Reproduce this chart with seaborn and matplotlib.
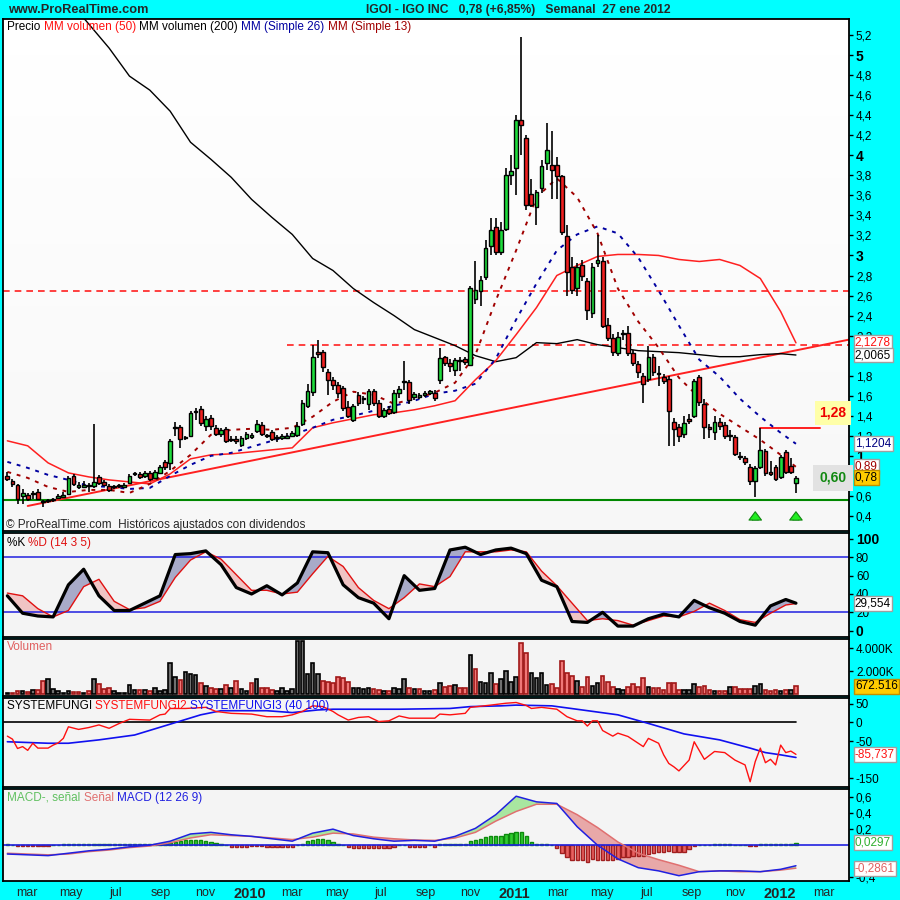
import numpy as np
import pandas as pd
import matplotlib
matplotlib.use("Agg")
import matplotlib.pyplot as plt
import matplotlib.dates as mdates
import matplotlib.transforms as mtransforms
import seaborn as sns

sns.set_style("white")
plt.rcParams["font.family"] = ["Liberation Sans", "DejaVu Sans"]

# ---------------- data (weekly candles, monday dates) ----------------
first_week = "2009-02-02"

opens = [0.80, 0.75, 0.71, 0.60, 0.61, 0.62, 0.64, 0.54, 0.55, 0.56, 0.58, 0.59, 0.62, 0.80, 0.69, 0.69,
         0.70, 0.70, 0.79, 0.74, 0.70, 0.69, 0.70, 0.69, 0.73, 0.82, 0.82, 0.80, 0.83, 0.78, 0.83, 0.94,
         0.93, 1.28, 1.29, 1.18, 1.20, 1.44, 1.47, 1.30, 1.38, 1.28, 1.22, 1.27, 1.16, 1.17, 1.11, 1.18,
         1.19, 1.25, 1.31, 1.20, 1.24, 1.18, 1.18, 1.18, 1.20, 1.21, 1.32, 1.50, 1.64, 2.04, 2.04, 1.84,
         1.76, 1.71, 1.68, 1.49, 1.36, 1.61, 1.57, 1.52, 1.65, 1.53, 1.40, 1.47, 1.44, 1.63, 1.74, 1.74,
         1.59, 1.59, 1.61, 1.63, 1.63, 1.76, 1.99, 1.93, 1.86, 1.95, 1.97, 1.91, 2.57, 2.65, 2.79, 3.09,
         3.28, 3.03, 3.26, 3.80, 3.87, 4.35, 4.17, 3.61, 3.48, 3.67, 3.92, 3.90, 3.90, 3.79, 3.19, 2.88,
         2.68, 2.90, 2.75, 2.43, 2.92, 2.94, 2.31, 2.18, 2.03, 2.22, 2.23, 2.03, 1.92, 1.80, 1.77, 1.99,
         1.82, 1.79, 1.77, 1.34, 1.29, 1.22, 1.37, 1.40, 1.79, 1.52, 1.29, 1.24, 1.34, 1.31, 1.20, 1.19,
         0.99, 0.98, 0.89, 0.75, 0.89, 1.05, 0.84, 0.89, 0.79, 1.04, 0.90, 0.73]
highs = [0.84, 0.77, 0.72, 0.67, 0.63, 0.65, 0.67, 0.56, 0.57, 0.58, 0.62, 0.64, 0.80, 0.82, 0.74, 0.75,
         0.73, 1.32, 0.81, 0.76, 0.72, 0.71, 0.72, 0.73, 0.82, 0.84, 0.84, 0.85, 0.85, 0.86, 0.91, 0.96,
         1.17, 1.34, 1.31, 1.20, 1.45, 1.48, 1.50, 1.40, 1.41, 1.31, 1.28, 1.29, 1.20, 1.20, 1.20, 1.24,
         1.23, 1.36, 1.34, 1.22, 1.26, 1.21, 1.22, 1.23, 1.25, 1.34, 1.56, 1.72, 2.11, 2.16, 2.06, 1.87,
         1.79, 1.74, 1.70, 1.55, 1.52, 1.64, 1.60, 1.67, 1.67, 1.56, 1.48, 1.50, 1.66, 1.70, 1.95, 1.76,
         1.64, 1.63, 1.65, 1.66, 1.66, 2.08, 2.00, 1.97, 1.98, 1.99, 1.99, 2.70, 2.94, 2.80, 3.15, 3.37,
         3.37, 3.33, 3.87, 4.00, 4.40, 5.18, 4.20, 3.76, 3.65, 3.95, 4.32, 4.24, 3.98, 3.80, 3.30, 2.98,
         2.92, 2.95, 2.78, 2.92, 3.20, 2.98, 2.38, 2.22, 2.24, 2.26, 2.30, 2.06, 1.95, 1.83, 2.10, 2.02,
         1.90, 1.82, 1.80, 1.38, 1.32, 1.40, 1.42, 1.77, 1.81, 1.57, 1.32, 1.40, 1.38, 1.34, 1.26, 1.21,
         1.04, 1.00, 0.92, 0.90, 1.28, 1.07, 0.95, 0.91, 1.01, 1.06, 0.98, 0.80]
lows = [0.75, 0.69, 0.52, 0.52, 0.55, 0.57, 0.56, 0.49, 0.53, 0.54, 0.57, 0.58, 0.61, 0.70, 0.67, 0.68,
        0.64, 0.68, 0.71, 0.70, 0.64, 0.67, 0.68, 0.68, 0.72, 0.80, 0.77, 0.78, 0.75, 0.77, 0.82, 0.86,
        0.86, 1.20, 1.08, 1.16, 1.20, 1.36, 1.30, 1.25, 1.26, 1.20, 1.19, 1.13, 1.14, 1.12, 1.09, 1.16,
        1.17, 1.23, 1.20, 1.18, 1.15, 1.14, 1.16, 1.17, 1.19, 1.19, 1.30, 1.48, 1.60, 1.98, 1.84, 1.61,
        1.66, 1.58, 1.45, 1.38, 1.34, 1.50, 1.52, 1.46, 1.50, 1.38, 1.38, 1.41, 1.42, 1.58, 1.66, 1.52,
        1.56, 1.57, 1.59, 1.61, 1.55, 1.72, 1.90, 1.84, 1.80, 1.85, 1.91, 1.90, 2.52, 2.50, 2.76, 3.00,
        3.00, 3.00, 3.24, 3.70, 3.60, 4.00, 3.45, 3.48, 3.30, 3.62, 3.85, 3.56, 3.56, 3.20, 2.60, 2.62,
        2.60, 2.75, 2.36, 2.38, 2.88, 2.28, 2.15, 2.00, 2.00, 2.16, 2.00, 1.90, 1.78, 1.53, 1.74, 1.80,
        1.70, 1.72, 1.10, 1.10, 1.14, 1.18, 1.32, 1.38, 1.50, 1.17, 1.18, 1.16, 1.26, 1.17, 1.15, 1.00,
        0.96, 0.91, 0.71, 0.59, 0.87, 0.80, 0.80, 0.75, 0.77, 0.82, 0.82, 0.63]
closes = [0.77, 0.72, 0.57, 0.63, 0.57, 0.63, 0.57, 0.54, 0.55, 0.56, 0.60, 0.61, 0.78, 0.72, 0.71, 0.71,
          0.70, 0.74, 0.73, 0.71, 0.66, 0.69, 0.70, 0.71, 0.80, 0.82, 0.79, 0.83, 0.77, 0.84, 0.89, 0.89,
          1.15, 1.29, 1.17, 1.18, 1.43, 1.44, 1.33, 1.37, 1.30, 1.22, 1.26, 1.15, 1.16, 1.15, 1.18, 1.22,
          1.21, 1.32, 1.22, 1.20, 1.17, 1.18, 1.20, 1.20, 1.23, 1.30, 1.53, 1.65, 1.99, 2.02, 1.89, 1.76,
          1.71, 1.63, 1.48, 1.40, 1.50, 1.53, 1.57, 1.65, 1.53, 1.40, 1.46, 1.43, 1.63, 1.67, 1.74, 1.56,
          1.62, 1.61, 1.63, 1.65, 1.58, 1.98, 1.93, 1.90, 1.96, 1.95, 1.94, 2.68, 2.66, 2.76, 3.07, 3.25,
          3.03, 3.25, 3.80, 3.84, 4.35, 4.30, 3.50, 3.50, 3.63, 3.89, 4.05, 3.85, 3.79, 3.23, 2.83, 2.66,
          2.88, 2.80, 2.46, 2.88, 2.95, 2.30, 2.18, 2.04, 2.19, 2.22, 2.03, 1.93, 1.84, 1.72, 1.99, 1.84,
          1.82, 1.75, 1.45, 1.27, 1.20, 1.33, 1.35, 1.75, 1.54, 1.29, 1.27, 1.34, 1.30, 1.20, 1.20, 1.02,
          0.99, 0.94, 0.75, 0.88, 1.06, 0.83, 0.82, 0.77, 0.99, 0.84, 0.84, 0.78]

# volume in thousands of shares
volume_k = [116, 116, 232, 232, 174, 348, 348, 1100, 1275, 406, 232, 116, 232, 174, 174, 116,
            232, 1333, 840, 406, 550, 232, 116, 116, 754, 348, 348, 348, 232, 550, 290, 348,
            2725, 1507, 1189, 1942, 1768, 1681, 986, 696, 493, 406, 406, 812, 493, 1100, 406, 290,
            928, 1275, 493, 493, 348, 232, 493, 232, 406, 4580, 4580, 1768, 2667, 1710, 1130, 1044,
            928, 1450, 1391, 1044, 493, 493, 406, 493, 406, 348, 232, 290, 493, 406, 1275, 550,
            406, 406, 290, 232, 348, 986, 580, 696, 783, 493, 493, 3392, 2145, 1073, 928, 1797,
            870, 1276, 2029, 1015, 1450, 4406, 3537, 1855, 1363, 1855, 783, 841, 551, 2899, 1855, 1565,
            1160, 638, 1450, 696, 986, 1565, 1073, 638, 406, 348, 638, 841, 580, 1363, 580, 493,
            493, 348, 986, 928, 348, 348, 348, 841, 638, 696, 348, 290, 232, 232, 638, 638,
            406, 406, 406, 696, 841, 348, 290, 348, 232, 348, 348, 673]

# moving averages, sampled every 4 weeks
ma_weeks = list(range(0, 153, 4)) + [155]
mm50 = [1.15, 1.10, 0.93, 0.83, 0.79, 0.76, 0.74, 0.72, 0.82, 0.97, 1.01, 1.02, 1.04, 1.06, 1.08, 1.28,
        1.33, 1.37, 1.41, 1.43, 1.46, 1.50, 1.55, 1.76, 1.95, 2.21, 2.48, 2.80, 2.90, 2.99, 3.01, 3.01,
        3.00, 2.96, 2.94, 2.96, 2.90, 2.77, 2.44, 2.1278]
mm26 = [0.94, 0.88, 0.81, 0.76, 0.70, 0.69, 0.67, 0.68, 0.80, 0.91, 1.00, 1.03, 1.09, 1.15, 1.21, 1.28,
        1.36, 1.40, 1.45, 1.50, 1.55, 1.62, 1.65, 1.72, 1.97, 2.36, 2.72, 3.05, 3.21, 3.29, 3.22, 2.98,
        2.65, 2.30, 1.96, 1.79, 1.57, 1.39, 1.23, 1.1204]
mm13 = [0.84, 0.78, 0.69, 0.64, 0.66, 0.66, 0.63, 0.72, 0.85, 1.01, 1.21, 1.26, 1.27, 1.26, 1.28, 1.39,
        1.54, 1.64, 1.61, 1.52, 1.57, 1.63, 1.73, 2.01, 2.55, 3.05, 3.58, 3.77, 3.58, 3.22, 2.67, 2.34,
        2.08, 1.78, 1.58, 1.42, 1.29, 1.16, 1.01, 0.89]
mm200_weeks = [15, 20] + list(range(24, 153, 4)) + [155]
mm200 = [5.37, 5.07, 4.79, 4.65, 4.44, 4.13, 3.96, 3.78, 3.56, 3.38, 3.21, 2.97, 2.85, 2.67, 2.53, 2.40,
         2.26, 2.18, 2.10, 2.00, 1.94, 1.98, 2.13, 2.12, 2.16, 2.11, 2.08, 2.05, 2.04, 2.03, 2.01, 1.99,
         1.99, 2.01, 2.02, 2.0065]

# drawn levels
resist_high = 2.65
resist_mid = 2.11
resist_mid_from = 55
support = 0.56
trend_dates = ["2009-03-02", "2012-04-05"]
trend_prices = [0.50, 2.16]
breakout = 1.28
breakout_from = 148
breakout_to = "2012-02-25"
signal_weeks = [147, 155]

# stochastic %K / %D (14 3 5), every 3 weeks
st_weeks = list(range(0, 154, 3)) + [155]
st_k = [38, 19, 16, 15, 50, 67, 38, 22, 22, 30, 38, 83, 84, 87, 72, 47, 40, 49, 39, 52,
        86, 85, 50, 36, 30, 13, 60, 44, 46, 88, 91, 83, 88, 90, 84, 55, 48, 10, 9, 20,
        5, 5, 13, 18, 15, 33, 25, 19, 10, 6, 27, 34, 30]
st_d = [41, 38, 24, 15, 22, 48, 56, 32, 23, 25, 32, 58, 77, 86, 78, 61, 44, 44, 40, 42,
        62, 81, 70, 47, 33, 24, 36, 51, 48, 59, 86, 86, 86, 88, 86, 65, 49, 30, 11, 13,
        11, 6, 11, 16, 15, 21, 30, 22, 12, 9, 19, 28, 29.554]

# SYSTEMFUNGI2 (red) and SYSTEMFUNGI3 (blue)
sf2_weeks = [0, 1, 2, 3, 4, 5, 6, 7, 8, 9, 10, 11, 12, 14, 16, 18, 20, 22, 24, 28, 30, 31, 32, 35, 39,
             41, 44, 48, 51, 54, 56, 58, 60, 62, 64, 65, 67, 69, 71, 73, 75, 77, 79, 84, 85, 87, 90,
             91, 95, 98, 100, 102, 103, 105, 108, 110, 112, 113, 114, 115, 116, 117, 119, 120, 122,
             125, 126, 128, 129, 130, 131, 132, 134, 135, 137, 139, 141, 143, 145, 146, 147, 148,
             149, 150, 151, 152, 153, 154, 155]
sf2 = [-37, -45, -70, -65, -75, -56, -69, -69, -69, -61, -55, -43, -12, -19, -14, -7, -16, -3, 8, 6,
       20, 22, 37, 37, 40, 29, 24, 22, 15, 15, 20, 29, 44, 42, 29, 20, 6, 13, 15, 2, 4, 17, 11, 11,
       22, 20, 24, 40, 46, 51, 53, 45, 37, 40, 35, 15, 4, 4, -10, 4, 4, -22, -37, -29, -38, -65,
       -43, -56, -87, -110, -119, -130, -101, -52, -99, -78, -81, -101, -114, -159, -105, -69,
       -108, -99, -114, -61, -81, -77, -85.737]
sf3_weeks = [0, 8, 12, 18, 25, 32, 38, 42, 51, 56, 61, 64, 77, 87, 91, 97, 100, 107, 113, 120,
             126, 133, 140, 146, 149, 152, 155]
sf3 = [-52, -56, -56, -47, -34, -5, 20, 31, 31, 26, 33, 35, 35, 37, 42, 44, 46, 44, 33, 20,
       -3, -31, -47, -69, -81, -87, -94]

# MACD (12 26 9), lines every 4 weeks, histogram weekly
macd_line = [-0.11, -0.12, -0.13, -0.10, -0.07, -0.05, -0.02, 0.00, 0.05, 0.14, 0.16, 0.13, 0.11, 0.08,
             0.05, 0.15, 0.20, 0.12, 0.08, 0.05, 0.06, 0.05, 0.11, 0.21, 0.38, 0.61, 0.54, 0.52, 0.23,
             0.00, -0.17, -0.28, -0.32, -0.38, -0.33, -0.32, -0.32, -0.33, -0.30, -0.256]
macd_signal = [-0.10, -0.11, -0.12, -0.11, -0.08, -0.06, -0.03, -0.01, 0.03, 0.09, 0.13, 0.12, 0.11,
               0.09, 0.07, 0.10, 0.15, 0.14, 0.10, 0.08, 0.065, 0.06, 0.09, 0.16, 0.30, 0.42, 0.51,
               0.51, 0.38, 0.22, 0.04, -0.10, -0.18, -0.25, -0.33, -0.32, -0.33, -0.33, -0.31, -0.2861]
macd_hist = [0.02, 0, -0.01, -0.01, -0.01, -0.01, -0.01, -0.01, -0.01, 0, 0, 0.02, 0.02, 0.02, 0.02, 0.02,
             0.02, 0.02, 0.02, 0.02, 0.02, 0.02, 0.01, 0.01, 0.02, 0.02, 0.02, 0.02, 0.02, 0.02, 0.02, 0.02,
             0.03, 0.04, 0.05, 0.06, 0.07, 0.07, 0.06, 0.05, 0.04, 0.03, 0.01, 0, -0.02, -0.02, -0.02, -0.02,
             -0.01, -0.01, -0.01, -0.02, -0.02, -0.02, -0.02, -0.02, -0.02, 0, 0.01, 0.05, 0.07, 0.08,
             0.08, 0.07, 0.04, 0.02, 0, -0.02, -0.03, -0.04, -0.03, -0.03, -0.03, -0.04, -0.03, -0.03,
             -0.02, 0, 0, -0.02, -0.02, -0.02, -0.02, 0, -0.02, 0.02, 0.02, 0.02, 0.02, 0.02, 0.02, 0.05,
             0.07, 0.08, 0.10, 0.12, 0.12, 0.12, 0.14, 0.15, 0.17, 0.17, 0.11, 0.04, 0.02, 0.02, 0.02, 0,
             -0.03, -0.10, -0.15, -0.18, -0.19, -0.19, -0.21, -0.17, -0.19, -0.19, -0.19, -0.19, -0.17,
             -0.15, -0.15, -0.14, -0.14, -0.13, -0.11, -0.10, -0.08, -0.08, -0.07, -0.08, -0.08, -0.08,
             -0.05, -0.01, 0, 0, 0, 0.01, 0.01, 0.01, 0.01, 0, 0, 0, -0.01, -0.01, 0.01, 0.01, 0.01, 0.01,
             0.02, 0.02, 0.02, 0.0297]

months_es = {3: "mar", 5: "may", 7: "jul", 9: "sep", 11: "nov"}

# ---------------- figure ----------------
W = 900
weeks = pd.date_range(first_week, periods=len(closes), freq="7D")
xw = mdates.date2num(weeks)
o, h, l, c = map(np.array, (opens, highs, lows, closes))

fig = plt.figure(figsize=(9, 9), dpi=100, facecolor="#00FFFF")


def panel(y_top, y_bot):
    a = fig.add_axes([3 / W, 1 - y_bot / W, 846 / W, (y_bot - y_top) / W])
    a.set_facecolor("#F4F4F4")
    for s in a.spines.values():
        s.set_color("black")
        s.set_linewidth(1.3)
    return a


ax_p = panel(19, 531)
ax_s = panel(533, 637)
ax_v = panel(639, 696)
ax_f = panel(698, 787)
ax_m = panel(789, 881)
axes = [ax_p, ax_s, ax_v, ax_f, ax_m]

x_lo = mdates.date2num(pd.Timestamp("2009-01-27"))
x_hi = mdates.date2num(pd.Timestamp("2012-04-05"))

# white-to-light-grey background of the price panel
ax_p.imshow(np.linspace(0, 1, 100).reshape(-1, 1), cmap="Greys", vmin=0, vmax=16,
            extent=[0, 1, 0, 1], transform=ax_p.transAxes, aspect="auto", zorder=0)

# ---- price panel ----
ax_p.axhline(resist_high, color="#FF2020", lw=1.2, ls=(0, (4, 3)))
ax_p.plot([xw[resist_mid_from], x_hi], [resist_mid, resist_mid], color="#FF2020", lw=1.2, ls=(0, (4, 3)))
ax_p.axhline(support, color="#008800", lw=1.5)
ax_p.plot(mdates.date2num(pd.to_datetime(trend_dates)), trend_prices, color="#FF2020", lw=1.4)
ax_p.plot([xw[breakout_from], mdates.date2num(pd.Timestamp(breakout_to))], [breakout, breakout],
          color="#FF2020", lw=1.4)

sns.lineplot(x=xw[mm200_weeks], y=mm200, ax=ax_p, color="black", lw=1.0, legend=False)
sns.lineplot(x=xw[ma_weeks], y=mm50, ax=ax_p, color="#FF2020", lw=1.1, legend=False)
sns.lineplot(x=xw[ma_weeks], y=mm26, ax=ax_p, color="#0000A0", lw=1.4, ls=(0, (2, 3)), legend=False)
sns.lineplot(x=xw[ma_weeks], y=mm13, ax=ax_p, color="#A00000", lw=1.4, ls=(0, (2, 3)), legend=False)

ax_p.vlines(xw, l, h, color="black", lw=1.2, zorder=3)
up = c >= o
body = np.maximum(np.abs(c - o), 0.006)
ax_p.bar(xw, body, bottom=np.minimum(o, c), width=5.2,
         color=np.where(up, "#1EDC3C", "#F02020"), edgecolor="black", lw=1.0, zorder=4)

for wk in signal_weeks:
    ax_p.annotate("", xy=(xw[wk], 0.47), xytext=(xw[wk], 0.33),
                  arrowprops=dict(arrowstyle="simple,head_width=0.9,head_length=0.6,tail_width=0.4",
                                  fc="#22EE22", ec="#118811", lw=0.8), zorder=6)

ax_p.set_ylim(0.25, 5.36)
pt = [v for v in np.round(np.arange(0.4, 5.21, 0.2), 1) if v not in (0.8, 2.0)]
ax_p.set_yticks(pt, [f"{v:g}".replace(".", ",") for v in pt])

# ---- stochastic ----
sx = xw[st_weeks]
k = np.array(st_k, dtype=float)
d = np.array(st_d, dtype=float)
ax_s.fill_between(sx, k, d, where=k >= d, interpolate=True, color="#A8AAC8", lw=0)
ax_s.fill_between(sx, k, d, where=k < d, interpolate=True, color="#F0C4C4", lw=0)
ax_s.axhline(80, color="#2020E0", lw=1.1)
ax_s.axhline(20, color="#2020E0", lw=1.1)
sns.lineplot(x=sx, y=d, ax=ax_s, color="#E01010", lw=1.0, legend=False)
sns.lineplot(x=sx, y=k, ax=ax_s, color="black", lw=2.3, legend=False)
ax_s.set_ylim(-6.9, 106.5)
ax_s.set_yticks([0, 20, 40, 60, 80, 100], ["0", "20", "40", "60", "80", "100"])

# ---- volume ----
vol_up = np.r_[True, c[1:] >= c[:-1]]
ax_v.bar(xw, volume_k, width=5.0, color=np.where(vol_up, "#707070", "#F07878"),
         edgecolor=np.where(vol_up, "black", "#A01818"), lw=1.2)
ax_v.set_ylim(-174, 4783)
ax_v.set_yticks([2000, 4000], ["2.000K", "4.000K"])

# ---- SYSTEMFUNGI ----
ax_f.plot([xw[0] - 6, xw[-1]], [0, 0], color="black", lw=1.2)
sns.lineplot(x=xw[sf3_weeks], y=sf3, ax=ax_f, color="#1010F0", lw=1.2, legend=False)
sns.lineplot(x=xw[sf2_weeks], y=sf2, ax=ax_f, color="#FF1010", lw=1.0, legend=False)
ax_f.set_ylim(-173, 65)
ax_f.set_yticks([50, 0, -50, -150], ["50", "0", "-50", "-150"])

# ---- MACD ----
mx = xw[ma_weeks]
ml = np.array(macd_line)
ms = np.array(macd_signal)
ax_m.fill_between(mx, ml, ms, where=ml >= ms, interpolate=True, color="#A8E6A0", lw=0)
ax_m.fill_between(mx, ml, ms, where=ml < ms, interpolate=True, color="#E8A8A8", lw=0)
hist = np.array(macd_hist)
pos = hist >= 0
ax_m.bar(xw, hist, width=4.6, color=np.where(pos, "#30CC30", "#E86060"),
         edgecolor=np.where(pos, "#0E8A0E", "#A02020"), lw=1.0)
ax_m.axhline(0, color="#2020E0", lw=1.2)
sns.lineplot(x=mx, y=ms, ax=ax_m, color="#E07070", lw=1.1, legend=False)
sns.lineplot(x=mx, y=ml, ax=ax_m, color="#2020E0", lw=1.1, legend=False)
ax_m.set_ylim(-0.446, 0.70)
mt = [0.6, 0.4, 0.2, -0.4]
ax_m.set_yticks(mt, [f"{v:g}".replace(".", ",") for v in mt])

# ---- common axis styling ----
tick_dates = pd.date_range("2009-03-01", "2012-03-01", freq="2MS")
for a in axes:
    a.set_xlim(x_lo, x_hi)
    a.yaxis.tick_right()
    a.tick_params(axis="y", direction="out", length=3, width=1, pad=2, labelsize=8.5,
                  colors="black", right=True)
    a.set_ylabel("")
    a.set_xlabel("")
    if a is not ax_m:
        a.set_xticks([])

for v, t in zip(pt, ax_p.get_yticklabels()):
    if abs(v - round(v)) < 1e-6:
        t.set_fontweight("bold")
        t.set_fontsize(10)
sl = ax_s.get_yticklabels()
for t in (sl[0], sl[-1]):
    t.set_fontweight("bold")
    t.set_fontsize(10)

ax_m.set_xticks(mdates.date2num(tick_dates))
ax_m.set_xticklabels([str(t.year) if t.month == 1 else months_es[t.month] for t in tick_dates])
ax_m.tick_params(axis="x", direction="out", length=3, pad=1.5)
for t, dt in zip(ax_m.get_xticklabels(), tick_dates):
    if dt.month == 1:
        t.set_fontweight("bold")
        t.set_fontsize(10.5)
    else:
        t.set_fontsize(9)


# ---- texts ----
def rainbow(ax, x_px, y_px, parts, size=8.5):
    t = ax.text(x_px / W, 1 - y_px / W, parts[0][0], color=parts[0][1], fontsize=size,
                va="baseline", transform=fig.transFigure, zorder=9)
    for s, col in parts[1:]:
        t = ax.annotate(s, xy=(1, 0), xycoords=t, va="bottom", ha="left", color=col,
                        fontsize=size, annotation_clip=False, zorder=9)
    return t


rainbow(ax_p, 7, 30, [("Precio ", "black"), ("MM volumen (50) ", "#FF1010"),
                      ("MM volumen (200) ", "black"), ("MM (Simple 26) ", "#0000A0"),
                      ("MM (Simple 13)", "#A00000")])
ax_p.text(6 / W, 1 - 528 / W, "\u00a9 ProRealTime.com  Históricos ajustados con dividendos",
          fontsize=8.5, va="baseline", transform=fig.transFigure)
rainbow(ax_s, 7, 546, [("%K ", "black"), ("%D (14 3 5)", "#E01010")])
ax_v.text(7 / W, 1 - 650 / W, "Volumen", fontsize=8.5, va="baseline", color="#E06060",
          transform=fig.transFigure)
rainbow(ax_f, 7, 709, [("SYSTEMFUNGI ", "black"), ("SYSTEMFUNGI2 ", "#FF1010"),
                       ("SYSTEMFUNGI3 (40 100)", "#1010F0")])
rainbow(ax_m, 7, 801, [("MACD-, señal ", "#60C060"), ("Señal ", "#E07070"),
                       ("MACD (12 26 9)", "#2020E0")])

fig.text(8 / W, 1 - 10 / W, "www.ProRealTime.com", fontsize=9.2, fontweight="bold", va="center")
fig.text(366 / W, 1 - 10 / W, "IGOI - IGO INC   0,78 (+6,85%)   Semanal  27 ene 2012",
         fontsize=8.7, fontweight="bold", va="center")


def value_box(ax, y, s, fg, bg="white", ec="#A0A0A0"):
    tr = mtransforms.blended_transform_factory(ax.transAxes, ax.transData)
    ax.text(1.007, y, s, transform=tr, color=fg, fontsize=8.5, va="center", ha="left",
            clip_on=False, zorder=10,
            bbox=dict(boxstyle="square,pad=0.12", fc=bg, ec=ec, lw=1))


value_box(ax_p, mm50[-1], "2,1278", "#FF1010")
value_box(ax_p, mm200[-1], "2,0065", "black")
value_box(ax_p, mm26[-1], "1,1204", "#000080")
value_box(ax_p, mm13[-1], "0,89", "#A00000")
value_box(ax_p, closes[-1], "0,78", "black", bg="#FFCC00", ec="#C09000")
value_box(ax_s, st_d[-1], "29,554", "black")
value_box(ax_v, volume_k[-1], "672.516", "black", bg="#FFCC00", ec="#C09000")
value_box(ax_f, sf2[-1], "-85,737", "#FF1010")
value_box(ax_m, macd_hist[-1], "0,0297", "#30B030")
value_box(ax_m, macd_signal[-1], "-0,2861", "#E06060")

trp = mtransforms.blended_transform_factory(ax_p.transAxes, ax_p.transData)
ax_p.text(0.981, breakout + 0.15, "1,28", transform=trp, color="#EE0000", fontsize=10,
          fontweight="bold", ha="center", va="center", zorder=8,
          bbox=dict(boxstyle="square,pad=0.35", fc="#FFFFA8", ec="none"))
ax_p.text(0.981, closes[-1], "0,60", transform=trp, color="#118811", fontsize=10,
          fontweight="bold", ha="center", va="center", zorder=8,
          bbox=dict(boxstyle="square,pad=0.45", fc="#E2E2E2", ec="none"))

fig.savefig("out.png", dpi=100, facecolor=fig.get_facecolor())
